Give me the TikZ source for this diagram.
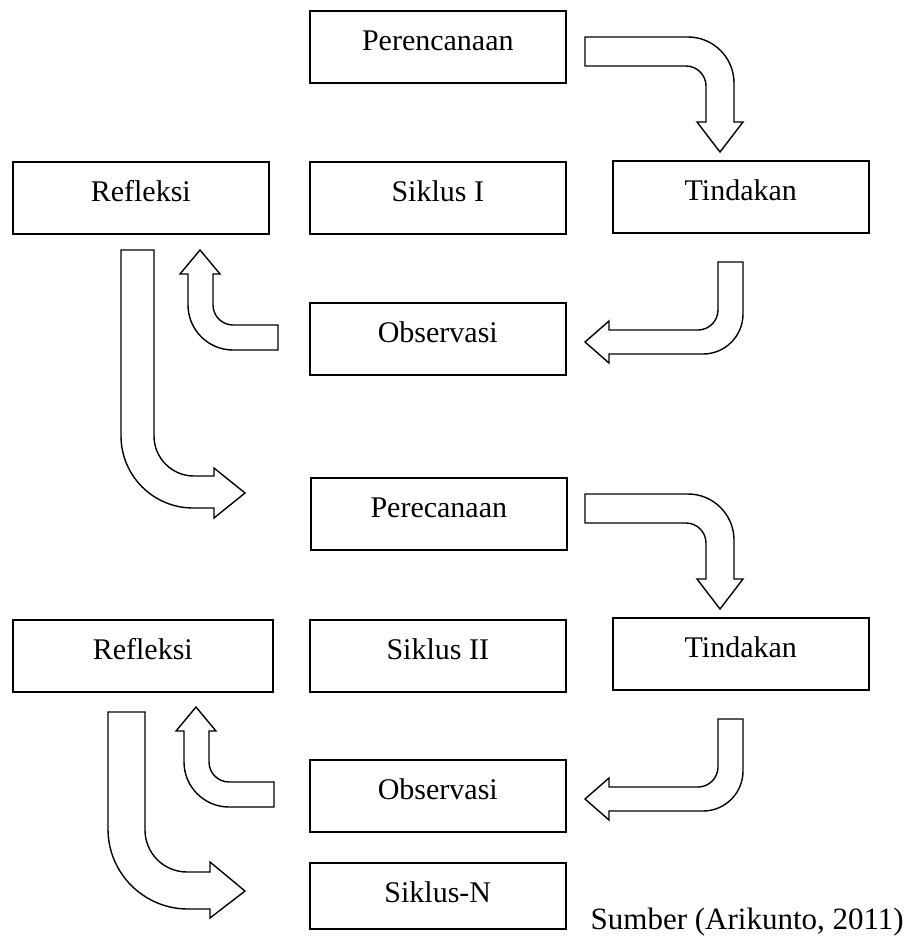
\documentclass[tikz,border=0pt]{standalone}
\usepackage{fontspec}
\setmainfont{Liberation Serif}
\begin{document}
\begin{tikzpicture}[x=1pt,y=-1pt,
  box/.style={draw, line width=1.6pt, inner sep=0pt, minimum width=256pt,
    text height=40pt, text depth=32pt, anchor=north west,
    font=\fontsize{30}{36}\selectfont},
  barrow/.style={draw, line width=1.4pt, fill=white, line join=miter}]
\useasboundingbox (0,0) rectangle (908,943);
% cycle I
\node[box] (p1) at (309,10) {Perencanaan};
\node[box] (r1) at (12,161) {Refleksi};
\node[box] (s1) at (309,161) {Siklus I};
\node[box] (t1) at (612,160) {Tindakan};
\node[box] (o1) at (309,302) {Observasi};
% cycle II
\node[box] (p2) at (310,477) {Perecanaan};
\node[box, minimum width=260pt] (r2) at (12,619) {Refleksi};
\node[box] (s2) at (309,619) {Siklus II};
\node[box] (t2) at (612,617) {Tindakan};
\node[box] (o2) at (309,759) {Observasi};
\node[box, text depth=26pt] (sn) at (309,862) {Siklus-N};
\node[anchor=base east, inner sep=0pt, font=\fontsize{31}{37}\selectfont] (src) at (904,929) {Sumber (Arikunto, 2011)};
% A1: Perencanaan -> Tindakan
\draw[barrow] (585,37) -- (688,37) .. controls (713.4,37) and (734,57.6) .. (734,83) -- (734,122) -- (743,122) -- (720,152) -- (697,122) -- (706,122) -- (706,86) .. controls (706,75) and (697,66) .. (686,66) -- (585,66) -- cycle;
% A2: Tindakan -> Observasi
\draw[barrow] (718,262) -- (743,262) -- (743,314) .. controls (743,336.1) and (725.1,354) .. (703,354) -- (609,354) -- (609,363) -- (585,342) -- (609,321) -- (609,330) -- (698,330) .. controls (709,330) and (718,321) .. (718,310) -- cycle;
% A3: Observasi -> Refleksi
\draw[barrow] (278,325) -- (278,350) -- (233,350) .. controls (208.2,350) and (188,329.8) .. (188,305) -- (188,274) -- (180,274) -- (200,250) -- (220,274) -- (213,274) -- (213,305) .. controls (213,316) and (222,325) .. (233,325) -- cycle;
% A4: Refleksi -> Perecanaan
\draw[barrow] (121,250) -- (154,250) -- (154,436) .. controls (154,458.1) and (171.9,476) .. (194,476) -- (214,476) -- (214,468) -- (245,493) -- (214,518) -- (214,508) -- (193,508) .. controls (153.3,508) and (121,475.7) .. (121,436) -- cycle;
% A5: Perecanaan -> Tindakan
\draw[barrow] (585,494) -- (688,494) .. controls (713.4,494) and (734,514.6) .. (734,540) -- (734,579) -- (743,579) -- (720,609) -- (697,579) -- (706,579) -- (706,543) .. controls (706,532) and (697,523) .. (686,523) -- (585,523) -- cycle;
% A6: Tindakan -> Observasi
\draw[barrow] (718,719) -- (743,719) -- (743,771) .. controls (743,793.1) and (725.1,811) .. (703,811) -- (609,811) -- (609,820) -- (585,799) -- (609,778) -- (609,787) -- (698,787) .. controls (709,787) and (718,778) .. (718,767) -- cycle;
% A7: Observasi -> Refleksi
\draw[barrow] (274,782) -- (274,807) -- (229,807) .. controls (204.2,807) and (184,786.8) .. (184,762) -- (184,731) -- (176,731) -- (196,707) -- (216,731) -- (209,731) -- (209,762) .. controls (209,773) and (218,782) .. (229,782) -- cycle;
% A8: Refleksi -> Siklus-N
\draw[barrow] (108,712) -- (145,712) -- (145,830) .. controls (145,853.2) and (163.8,872) .. (187,872) -- (210,872) -- (210,862) -- (245,891) -- (210,918) -- (210,909) -- (188,909) .. controls (143.8,909) and (108,873.2) .. (108,829) -- cycle;
\end{tikzpicture}
\end{document}
